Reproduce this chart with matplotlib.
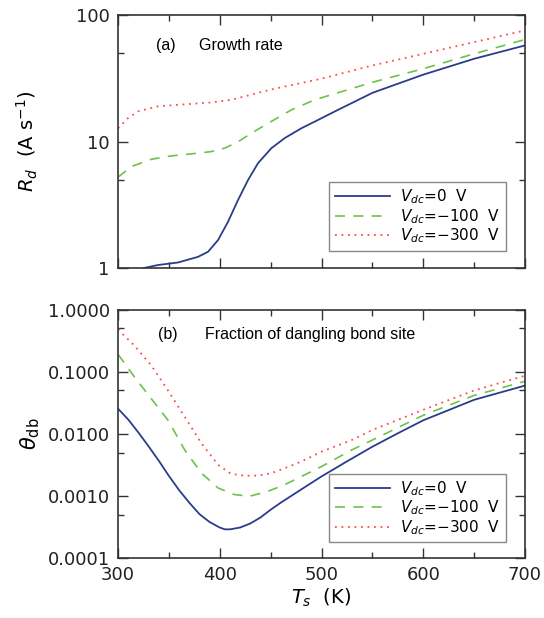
import matplotlib
matplotlib.use("Agg")
import matplotlib.pyplot as plt
from matplotlib.ticker import FixedLocator, NullFormatter

# --- data ---
# (a) growth rate R_d [A/s]
T_a_0 = [324.6, 339.3, 359, 378.6, 388.5, 398.3, 408.1, 417.9, 427.8, 437.6,
         450.7, 463.8, 480.2, 496.6, 516.2, 550, 600, 650, 700]
R_a_0 = [1.0, 1.06, 1.11, 1.23, 1.35, 1.67, 2.33, 3.46, 4.99, 6.78,
         8.9, 10.7, 12.8, 14.9, 17.9, 24.4, 34.0, 45.4, 57.9]
T_a_100 = [300, 313, 332.8, 352.4, 372, 391.7, 404.8, 417.9, 431, 450.7,
           470.4, 493.3, 550, 600, 650, 700]
R_a_100 = [5.25, 6.37, 7.28, 7.74, 8.03, 8.37, 8.91, 10.0, 11.7, 14.5,
           17.9, 21.5, 29.6, 37.9, 49.7, 64.5]
T_a_300 = [300, 309.8, 319.7, 339.3, 365.5, 391.7, 411.4, 450, 500, 550, 600,
           650, 700]
R_a_300 = [12.8, 15.4, 17.4, 19.1, 19.8, 20.5, 21.5, 25.9, 31.6, 40.2, 49.7,
           61.5, 76.1]

# (b) fraction of dangling bond sites
T_b_0 = [300, 310, 320, 330, 340, 350, 360, 370, 380, 390, 400, 405, 410, 420,
         430, 440, 450, 460, 480, 500, 525, 550, 575, 600, 650, 700]
th_b_0 = [0.0254, 0.017, 0.0105, 0.0063, 0.0037, 0.0021, 0.00124, 0.00078,
          0.00051, 0.00038, 0.00031, 0.00029, 0.00029, 0.00031, 0.00036,
          0.00045, 0.0006, 0.00078, 0.00127, 0.00206, 0.0036, 0.0062, 0.0102,
          0.0165, 0.0353, 0.0598]
T_b_100 = [300, 316.4, 332.8, 349.2, 365.6, 382, 398.4, 414.8, 429.5, 447.5,
           463.9, 480.3, 500, 529.5, 549.8, 600, 649.8, 700]
th_b_100 = [0.191, 0.0812, 0.0366, 0.0165, 0.00548, 0.00233, 0.00134, 0.00105,
            0.00099, 0.00119, 0.00152, 0.00206, 0.00297, 0.00548, 0.00792,
            0.0199, 0.0414, 0.0701]
T_b_300 = [300, 316.4, 332.8, 349.2, 365.6, 382, 398.4, 411, 425, 438, 451,
           464, 480, 500, 529.5, 549.8, 600, 649.8, 700]
th_b_300 = [0.48, 0.26, 0.125, 0.0498, 0.0187, 0.00702, 0.00316, 0.00227,
            0.00211, 0.00213, 0.00233, 0.0028, 0.00357, 0.00516, 0.00792,
            0.0115, 0.0244, 0.0498, 0.0863]

labels = [r'$V_{dc}$=0  V', r'$V_{dc}$=−100  V', r'$V_{dc}$=−300  V']

# --- styles ---
c_blue = '#2b3d8a'
c_green = '#6cc24a'
c_red = '#ff4b4b'
ls_dash = (0, (6, 5))
ls_dot = (0, (1, 2.6))
spine_col = '#333333'

plt.rcParams['font.family'] = 'DejaVu Sans'
plt.rcParams['mathtext.fontset'] = 'dejavusans'

fig = plt.figure(figsize=(5.44, 6.18), dpi=100)
ax1 = fig.add_axes([0.217, 0.566, 0.748, 0.409])
ax2 = fig.add_axes([0.217, 0.097, 0.748, 0.402])


def style_axes(ax):
    ax.set_xlim(300, 700)
    ax.set_yscale('log')
    ax.xaxis.set_major_locator(FixedLocator([300, 400, 500, 600, 700]))
    ax.xaxis.set_minor_locator(FixedLocator([350, 450, 550, 650]))
    ax.tick_params(which='both', direction='in', top=True, right=True,
                   color=spine_col, labelsize=13, labelcolor='#222222')
    ax.tick_params(which='major', length=7, width=1.0, pad=6)
    ax.tick_params(which='minor', length=4, width=1.0)
    for s in ax.spines.values():
        s.set_color(spine_col)
        s.set_linewidth(1.2)


def add_legend(ax, y0):
    leg = ax.legend(loc='lower right', bbox_to_anchor=(0.953, y0), fontsize=11,
                    handlelength=3.6, labelspacing=0.05, borderpad=0.35,
                    handletextpad=0.7, fancybox=False, framealpha=1,
                    borderaxespad=0)
    leg.get_frame().set_edgecolor('#888888')
    leg.get_frame().set_linewidth(1.0)


# (a)
ax1.plot(T_a_0, R_a_0, color=c_blue, lw=1.3, label=labels[0])
ax1.plot(T_a_100, R_a_100, color=c_green, lw=1.2, linestyle=ls_dash, label=labels[1])
ax1.plot(T_a_300, R_a_300, color=c_red, lw=1.3, linestyle=ls_dot, label=labels[2])
style_axes(ax1)
ax1.set_ylim(1, 100)
ax1.yaxis.set_major_locator(FixedLocator([1, 10, 100]))
ax1.yaxis.set_minor_locator(FixedLocator([5, 50]))
ax1.set_yticklabels(['1', '10', '100'])
ax1.yaxis.set_minor_formatter(NullFormatter())
ax1.set_xticklabels([])
ax1.set_ylabel(r'$R_d$  (A s$^{-1}$)', fontsize=14, labelpad=26)
ax1.text(0.093, 0.88, '(a)', transform=ax1.transAxes, fontsize=11.5,
         family='Liberation Sans', va='center')
ax1.text(0.198, 0.88, 'Growth rate', transform=ax1.transAxes, fontsize=11.5,
         family='Liberation Sans', va='center')
add_legend(ax1, 0.07)

# (b)
ax2.plot(T_b_0, th_b_0, color=c_blue, lw=1.3, label=labels[0])
ax2.plot(T_b_100, th_b_100, color=c_green, lw=1.2, linestyle=ls_dash, label=labels[1])
ax2.plot(T_b_300, th_b_300, color=c_red, lw=1.3, linestyle=ls_dot, label=labels[2])
style_axes(ax2)
ax2.set_ylim(1e-4, 1.0)
ax2.yaxis.set_major_locator(FixedLocator([1e-4, 1e-3, 1e-2, 1e-1, 1]))
ax2.yaxis.set_minor_locator(FixedLocator([5e-4, 5e-3, 5e-2, 5e-1]))
ax2.set_yticklabels(['0.0001', '0.0010', '0.0100', '0.1000', '1.0000'])
ax2.yaxis.set_minor_formatter(NullFormatter())
ax2.set_xticklabels(['300', '400', '500', '600', '700'])
ax2.set_ylabel(r'$\theta_{\rm db}$', fontsize=15, labelpad=4)
ax2.set_xlabel(r'$T_s$  (K)', fontsize=14, labelpad=2)
ax2.text(0.098, 0.90, '(b)', transform=ax2.transAxes, fontsize=11.5,
         family='Liberation Sans', va='center')
ax2.text(0.214, 0.90, 'Fraction of dangling bond site', transform=ax2.transAxes,
         fontsize=11.5, family='Liberation Sans', va='center')
add_legend(ax2, 0.065)

fig.savefig('out.png', dpi=100)
